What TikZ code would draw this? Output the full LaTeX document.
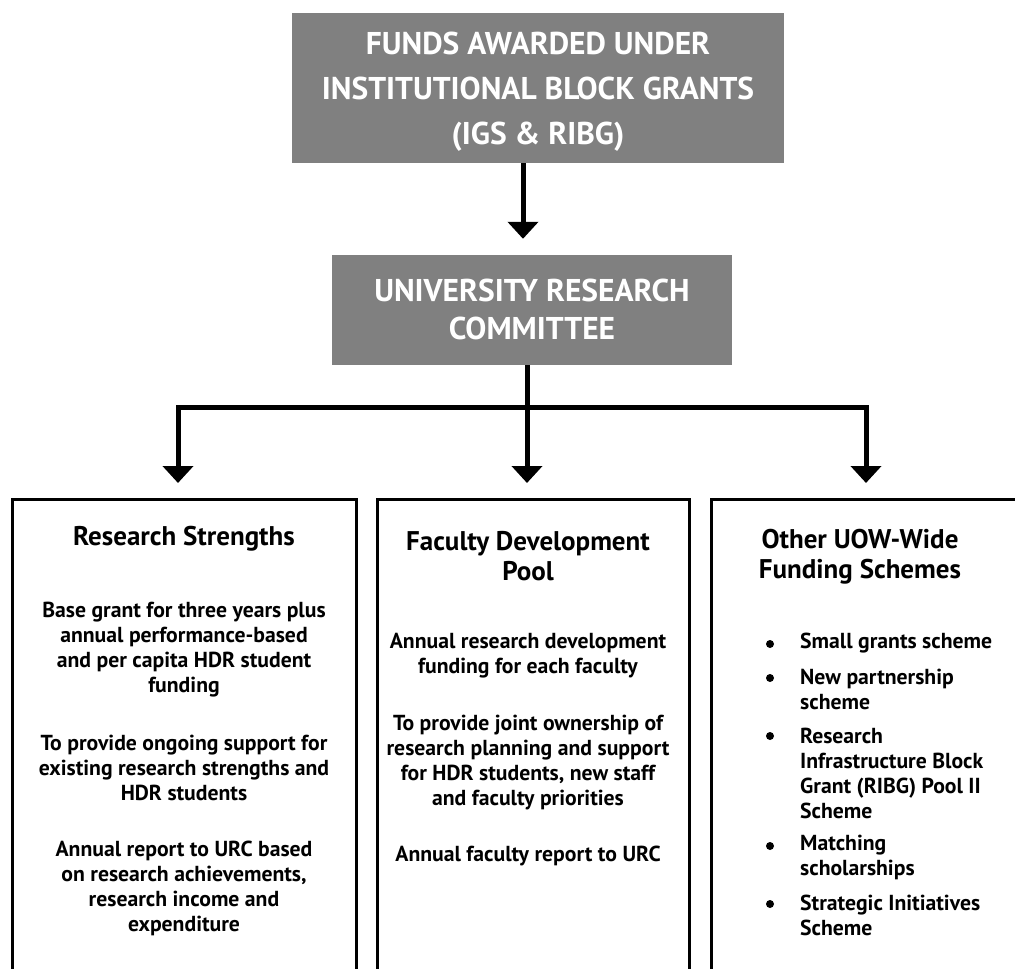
\documentclass[tikz,border=0pt]{standalone}
\usepackage{fontspec}
\setmainfont{PT Sans}
\usetikzlibrary{arrows.meta}

\tikzset{
  graybox/.style={fill=black!50, draw=none, inner sep=0pt},
  headtext/.style={text=white, font=\fontsize{31.5}{45}\selectfont\bfseries, align=center, inner sep=0pt},
  panel/.style={draw=black, line width=3pt, anchor=north, minimum height=540pt, inner sep=0pt},
  title/.style={font=\fontsize{27}{30}\selectfont\bfseries, align=center, inner sep=0pt},
  body/.style={font=\fontsize{21.7}{25}\selectfont\bfseries, align=center, inner sep=0pt},
  item/.style={font=\fontsize{21.7}{25}\selectfont\bfseries, align=left, anchor=west, inner sep=0pt},
  dot/.style={circle, fill=black, inner sep=0pt, minimum size=8pt},
  conn/.style={line width=5pt, line join=miter},
  arr/.style={conn, -{Triangle[width=30pt,length=17pt]}, shorten >=15pt},
}

\begin{document}
\begin{tikzpicture}[x=1pt, y=-1pt]
\useasboundingbox (0,0) rectangle (1015,969);
\clip (0,0) rectangle (1015,969);

% funding source and committee
\node[graybox, minimum width=492pt, minimum height=150pt] (fund) at (538,88) {};
\node[headtext] (fundtxt) at (538,92) {FUNDS AWARDED UNDER\\INSTITUTIONAL BLOCK GRANTS\\(IGS \& RIBG)};
\node[graybox, minimum width=400pt, minimum height=110pt] (urc) at (532,310) {};
\node[headtext, font=\fontsize{31.5}{38}\selectfont\bfseries] (urctxt) at (532,309) {UNIVERSITY RESEARCH\\COMMITTEE};

% three funding streams (open at the foot of the page)
\node[panel, minimum width=344pt] (rs) at (184,498) {};
\node[panel, minimum width=312pt] (fdp) at (533,498) {};
\node[panel, minimum width=330pt] (ow) at (876,498) {};

% connectors
\coordinate (j0) at (523,0);
\coordinate (hub) at (527,407);
\coordinate (c1) at (178,407);
\coordinate (c3) at (866,407);
\draw[arr, shorten >=16pt] (fund.south -| j0) -- (urc.north -| j0);
\draw[arr] (urc.south -| hub) -- (fdp.north -| hub);
\draw[arr] (hub) -| (rs.north -| c1);
\draw[arr] (hub) -| (ow.north -| c3);

% Research Strengths
\node[title] (rst) at (184,539) {Research Strengths};
\node[body] (rs1) at (184,649.5) {Base grant for three years plus\\annual performance-based\\and per capita HDR student\\funding};
\node[body] (rs2) at (184,768) {To provide ongoing support for\\existing research strengths and\\HDR students};
\node[body] (rs3) at (184,888.5) {Annual report to URC based\\on research achievements,\\research income and\\expenditure};

% Faculty Development Pool
\node[title] (fdt) at (528,556) {Faculty Development\\Pool};
\node[body] (fd1) at (528,655.5) {Annual research development\\funding for each faculty};
\node[body] (fd2) at (528,762.5) {To provide joint ownership of\\research planning and support\\for HDR students, new staff\\and faculty priorities};
\node[body] (fd3) at (528,856) {Annual faculty report to URC};

% Other UOW-Wide Funding Schemes
\node[title] (owt) at (860,556.5) {Other UOW-Wide\\Funding Schemes};
\node[dot] (b1) at (770,644) {};
\node[item] (i1) at (800,643) {Small grants scheme};
\node[dot] (b2) at (770,678) {};
\node[item] (i2) at (800,689.5) {New partnership\\scheme};
\node[dot] (b3) at (770,736) {};
\node[item] (i3) at (800,773.5) {Research\\Infrastructure Block\\Grant (RIBG) Pool II\\Scheme};
\node[dot] (b4) at (770,846) {};
\node[item] (i4) at (800,857.5) {Matching\\scholarships};
\node[dot] (b5) at (770,904) {};
\node[item] (i5) at (800,915.5) {Strategic Initiatives\\Scheme};
\end{tikzpicture}
\end{document}
